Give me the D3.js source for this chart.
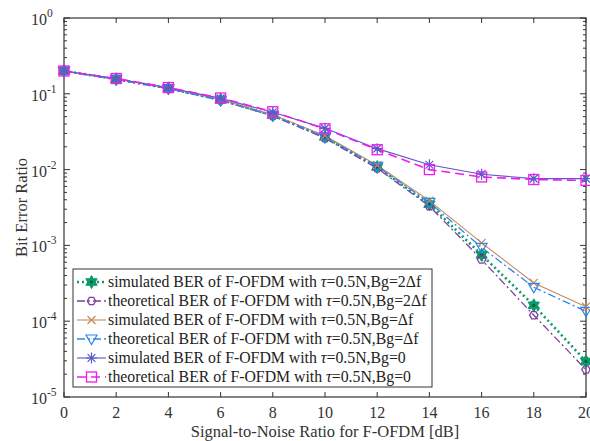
<!DOCTYPE html>
<html><head><meta charset="utf-8">
<script src="https://cdn.jsdelivr.net/npm/d3@7"></script>
</head><body style="margin:0">
<svg id="c" width="590" height="441" style="display:block;background:#fff"></svg>
<script>
const snr = [0,2,4,6,8,10,12,14,16,18,20];
const sim2df  = [0.20,0.156,0.118,0.083,0.052,0.027,0.0108,0.0035,0.00075,0.000162,0.0000295];
const theo2df = [0.20,0.155,0.117,0.082,0.051,0.026,0.0104,0.0033,0.00065,0.00012,0.000023];
const simdf   = [0.20,0.157,0.119,0.084,0.053,0.028,0.0114,0.0039,0.00108,0.00032,0.000155];
const theodf  = [0.20,0.155,0.117,0.082,0.052,0.027,0.0110,0.0037,0.00094,0.00028,0.000135];
const sim0    = [0.20,0.158,0.120,0.087,0.057,0.0350,0.0189,0.0116,0.0087,0.0076,0.0076];
const theo0   = [0.20,0.159,0.121,0.088,0.058,0.0345,0.0183,0.0100,0.0080,0.0074,0.0072];
const xTicks = [0,2,4,6,8,10,12,14,16,18,20];
const yTicks = [1e-5,1e-4,1e-3,1e-2,1e-1,1];
const labelHead = ["simulated BER of F-OFDM with ","theoretical BER of F-OFDM with ","simulated BER of F-OFDM with ","theoretical BER of F-OFDM with ","simulated BER of F-OFDM with ","theoretical BER of F-OFDM with "];
const labelTail = ["=0.5N,Bg=2Δf","=0.5N,Bg=2Δf","=0.5N,Bg=Δf","=0.5N,Bg=Δf","=0.5N,Bg=0","=0.5N,Bg=0"];
const series = [
 {d:sim2df, color:"#0d9a6a", dash:"2,3", w:2.6, marker:"hexagram"},
 {d:theo2df, color:"#7e3f9e", dash:"8,3,2,3", w:1.3, marker:"hexagon"},
 {d:simdf, color:"#c8895a", dash:null, w:1.1, marker:"x"},
 {d:theodf, color:"#2e86f0", dash:"8,3,2,3", w:1.3, marker:"tri"},
 {d:sim0, color:"#5a5ac8", dash:null, w:1.1, marker:"aster"},
 {d:theo0, color:"#f01cf0", dash:"9,5", w:1.6, marker:"square"}
];

const FF='"Liberation Serif"';
const L=64, R=586, T=18, B=397;
const svg = d3.select("#c");
const x = d3.scaleLinear().domain([0,20]).range([L,R]);
const y = d3.scaleLog().domain([1e-5,1]).range([B,T]);
const TC = "#333";

svg.append("rect").attr("x",L).attr("y",T).attr("width",R-L).attr("height",B-T)
  .attr("fill","none").attr("stroke",TC).attr("stroke-width",1.2);
const g = svg.append("g");
for(let e=-5;e<0;e++){
  for(let m=2;m<=9;m++){
    const v=m*Math.pow(10,e);
    g.append("line").attr("x1",L).attr("x2",L+3).attr("y1",y(v)).attr("y2",y(v)).attr("stroke",TC);
    g.append("line").attr("x1",R).attr("x2",R-3).attr("y1",y(v)).attr("y2",y(v)).attr("stroke",TC);
  }
}
xTicks.forEach(v=>{
  g.append("line").attr("x1",x(v)).attr("x2",x(v)).attr("y1",B).attr("y2",B-5).attr("stroke",TC);
  g.append("line").attr("x1",x(v)).attr("x2",x(v)).attr("y1",T).attr("y2",T+5).attr("stroke",TC);
});
yTicks.forEach(v=>{
  g.append("line").attr("x1",L).attr("x2",L+6).attr("y1",y(v)).attr("y2",y(v)).attr("stroke",TC);
  g.append("line").attr("x1",R).attr("x2",R-6).attr("y1",y(v)).attr("y2",y(v)).attr("stroke",TC);
});
svg.selectAll("text.xt").data(xTicks).join("text").attr("class","xt")
  .attr("x",d=>x(d)).attr("y",B+21).attr("text-anchor","middle").attr("font-size",16)
  .style("font-family",FF).attr("fill",TC).text(d=>d);
svg.selectAll("text.yt").data(yTicks).join("text").attr("class","yt")
  .attr("x",L-17).attr("y",d=>y(d)+7).attr("text-anchor","end").attr("font-size",16)
  .style("font-family",FF).attr("fill",TC).text("10");
svg.selectAll("text.ye").data(yTicks).join("text").attr("class","ye")
  .attr("x",L-17).attr("y",d=>y(d)-1).attr("text-anchor","start").attr("font-size",11.5)
  .style("font-family",FF).attr("fill",TC).text(d=>Math.round(Math.log10(d)));
svg.selectAll("text.ttl").data(["Signal-to-Noise Ratio for F-OFDM [dB]"]).join("text").attr("class","ttl")
  .attr("x",325).attr("y",437).attr("text-anchor","middle").attr("font-size",16.5)
  .style("font-family",FF).attr("fill",TC).text(d=>d);
svg.selectAll("text.ytl").data(["Bit Error Ratio"]).join("text").attr("class","ytl")
  .attr("transform","translate(27,"+((T+B)/2)+") rotate(-90)").attr("text-anchor","middle").attr("font-size",16.5)
  .style("font-family",FF).attr("fill",TC).text(d=>d);

function drawMarker(sel,type,cx,cy,color){
  const gg=sel.append("g").attr("transform",`translate(${cx},${cy})`);
  if(type==="hexagram"){
    const r1=6.5,r2=3.8;let pts=[];
    for(let i=0;i<12;i++){const a=-Math.PI/2+i*Math.PI/6;const r=i%2?r2:r1;pts.push([r*Math.cos(a),r*Math.sin(a)]);}
    gg.append("polygon").attr("points",pts.map(p=>p.join(",")).join(" ")).attr("fill",color).attr("stroke",color).attr("stroke-width",1);
    gg.append("circle").attr("r",1.6).attr("fill","#0a5a40");
  } else if(type==="hexagon"){
    let pts=[];for(let i=0;i<6;i++){const a=i*Math.PI/3;pts.push([4.2*Math.cos(a),4.2*Math.sin(a)]);}
    gg.append("polygon").attr("points",pts.map(p=>p.join(",")).join(" ")).attr("fill","none").attr("stroke",color).attr("stroke-width",1.3);
  } else if(type==="x"){
    gg.append("path").attr("d","M-4,-4L4,4M-4,4L4,-4").attr("stroke",color).attr("stroke-width",1.2);
  } else if(type==="tri"){
    gg.append("path").attr("d","M-5.5,-4L5.5,-4L0,5.5Z").attr("fill","none").attr("stroke",color).attr("stroke-width",1.2);
  } else if(type==="aster"){
    gg.append("path").attr("d","M0,-5.5L0,5.5M-5.5,0L5.5,0M-3.9,-3.9L3.9,3.9M-3.9,3.9L3.9,-3.9").attr("stroke",color).attr("stroke-width",1.2);
  } else if(type==="square"){
    gg.append("rect").attr("x",-5).attr("y",-5).attr("width",10).attr("height",10).attr("fill","none").attr("stroke",color).attr("stroke-width",1.3);
  }
}

const line = d3.line().x((d,i)=>x(snr[i])).y(d=>y(d));
const plot = svg.append("g");
series.forEach(s=>{
  plot.append("path").attr("d",line(s.d)).attr("fill","none").attr("stroke",s.color)
    .attr("stroke-width",s.w).attr("stroke-dasharray",s.dash);
});
series.forEach(s=>{
  s.d.forEach((v,i)=>drawMarker(plot,s.marker,x(snr[i]),y(v),s.color));
});

const lg = svg.append("g");
lg.append("rect").attr("x",73).attr("y",269).attr("width",359).attr("height",118)
  .attr("fill","#fff").attr("stroke",TC).attr("stroke-width",1);
const rowY=[282,301,320,339,358,377];
series.forEach((s,i)=>{
  const ry=rowY[i];
  lg.append("line").attr("x1",77).attr("x2",106).attr("y1",ry).attr("y2",ry).attr("stroke",s.color)
    .attr("stroke-width",s.w).attr("stroke-dasharray",s.dash);
  drawMarker(lg,s.marker,91.5,ry,s.color);
});
const lt = lg.selectAll("text.lt").data(labelHead).join("text").attr("class","lt")
  .attr("x",108).attr("y",(d,i)=>rowY[i]+5).attr("font-size",15.8)
  .style("font-family",FF).attr("fill","#222");
lt.append("tspan").text(d=>d);
lt.append("tspan").style("font-style","italic").text("τ");
lt.append("tspan").text((d,i)=>labelTail[i]);
</script>
</body></html>
